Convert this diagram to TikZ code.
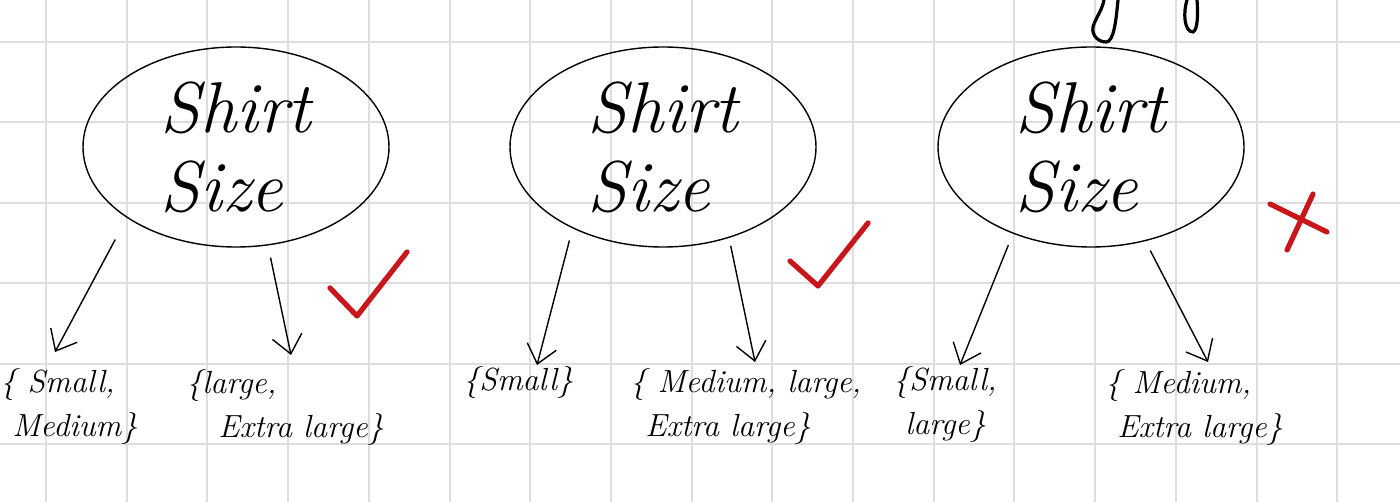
\documentclass[tikz,border=0pt]{standalone}
\usetikzlibrary{shapes.geometric,arrows.meta}
\definecolor{gridgray}{RGB}{222,222,222}
\definecolor{markred}{RGB}{200,22,26}

\begin{document}
\begin{tikzpicture}[x=0.5pt,y=-0.5pt,
    shirtnode/.style={ellipse,draw,line width=0.7pt,minimum width=153pt,minimum height=100pt,inner sep=0pt,align=left,font=\itshape\fontsize{36}{39.5}\selectfont},
    setlabel/.style={anchor=north west,inner sep=0pt,align=left,font=\itshape\fontsize{16}{22}\selectfont},
    arr/.style={line width=0.7pt,-{Straight Barb[length=9pt,width=15pt]}},
    redmark/.style={markred,line width=2.6pt,line cap=round,line join=round}]
            \useasboundingbox (0,0) rectangle (1400,502);
            \fill[white] (0,0) rectangle (1400,502);
            \foreach \i in {0,...,16} \draw[gridgray,line width=1pt] ({46+80.7*\i},0) -- ({46+80.7*\i},502);
            \foreach \j in {0,...,5} \draw[gridgray,line width=1pt] (0,{42+80.4*\j}) -- (1400,{42+80.4*\j});
            \draw[line width=1.6pt,line cap=round] (1118,0) .. controls (1116,20) and (1114,42) .. (1106,42) .. controls (1096,42) and (1090,32) .. (1094,24) .. controls (1097,16) and (1102,10) .. (1104,0);
            \draw[line width=1.6pt,line cap=round] (1187,0) .. controls (1183,12) and (1184,32) .. (1193,32) .. controls (1198,30) and (1198,12) .. (1197,0);
            \node[shirtnode](e1) at (236,147) {Shirt\\Size};
            \node[setlabel](s1) at (0,368) {\{ Small,\\\hspace*{6pt}Medium\}};
            \node[setlabel](s2) at (186,369) {\{large,\\\hspace*{16pt}Extra large\}};
            \coordinate(t1) at (55,352);
            \coordinate(t2) at (291,355);
            \path[] (e1.213.7) edge[arr,shorten <=12.3pt] (t1) (e1.288.4) edge[arr,shorten <=6.2pt] (t2);
            \node[shirtnode](e2) at (663,147) {Shirt\\Size};
            \node[setlabel](s3) at (463,366) {\{Small\}};
            \node[setlabel](s4) at (630,368) {\{ Medium, large,\\\hspace*{7.5pt}Extra large\}};
            \coordinate(t3) at (537,365);
            \coordinate(t4) at (755,362);
            \path[] (e2.222) edge[arr,shorten <=6.2pt] (t3) (e2.306.4) edge[arr,shorten <=4pt] (t4);
            \node[shirtnode](e3) at (1091,147) {Shirt\\Size};
            \node[setlabel](s5) at (893,366) {\{Small,\\\hspace*{6pt}large\}};
            \node[setlabel](s6) at (1105,369) {\{ Medium,\\\hspace*{6pt}Extra large\}};
            \coordinate(t5) at (960,365);
            \coordinate(t6) at (1208,362);
            \path[] (e3.228.7) edge[arr,shorten <=6.1pt] (t5) (e3.300) edge[arr,shorten <=5.3pt] (t6);
            \draw[redmark] (330,288) -- (357,316) -- (407,252);
            \draw[redmark] (790,261) -- (818,286) -- (868,223);
            \draw[redmark] (1270,204) -- (1327,232);
            \draw[redmark] (1287,250) -- (1313,194);
        \end{tikzpicture}
\end{document}
